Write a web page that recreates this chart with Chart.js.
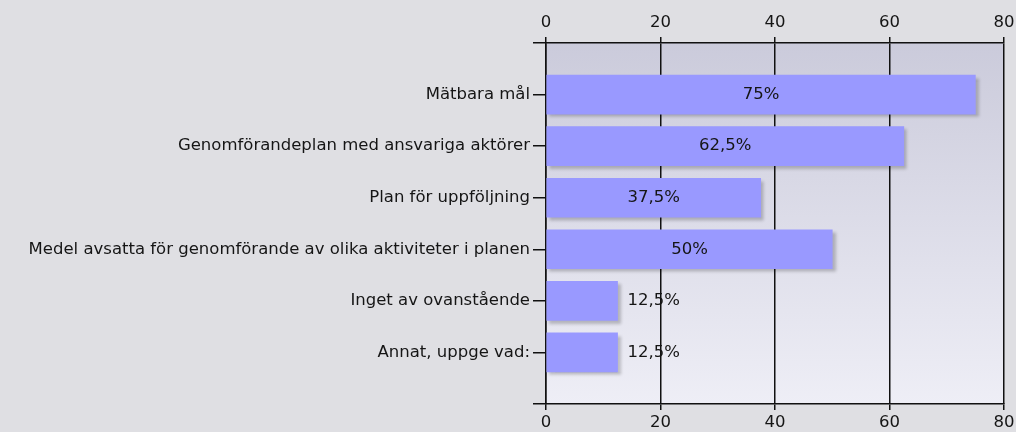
<!DOCTYPE html>
<html><head><meta charset="utf-8">
<script src="https://cdn.jsdelivr.net/npm/chart.js@4"></script>
<style>html,body{margin:0;padding:0;background:#dfdfe3;}#wrap{width:1016px;height:432px;}</style>
</head><body><div id="wrap"><canvas id="c" width="1016" height="432"></canvas></div>
<script>
const categories = ["Mätbara mål","Genomförandeplan med ansvariga aktörer","Plan för uppföljning","Medel avsatta för genomförande av olika aktiviteter i planen","Inget av ovanstående","Annat, uppge vad:"];
const values = [75, 62.5, 37.5, 50, 12.5, 12.5];
const valueLabels = ["75%","62,5%","37,5%","50%","12,5%","12,5%"];
const xTicks = [0, 20, 40, 60, 80];

const labels = [""].concat(categories, [""]);
const data = [null].concat(values, [null]);
const dLabels = [""].concat(valueLabels, [""]);
const FONT = "DejaVu Sans";
const FS = 16.5;

const bgPlugin = {
  id: 'bg',
  beforeDraw(chart) {
    const a = chart.chartArea, ctx = chart.ctx;
    const g = ctx.createLinearGradient(0, a.top, 0, a.bottom);
    g.addColorStop(0, '#cbcbdb');
    g.addColorStop(1, '#eeeef6');
    ctx.save(); ctx.fillStyle = g; ctx.fillRect(a.left, a.top, a.right - a.left, a.bottom - a.top); ctx.restore();
  },
  beforeDatasetsDraw(chart) {
    const ctx = chart.ctx; ctx.save();
    ctx.shadowColor = 'rgba(0,0,0,0.22)'; ctx.shadowOffsetX = 3; ctx.shadowOffsetY = 3; ctx.shadowBlur = 3;
  },
  afterDatasetsDraw(chart) {
    const ctx = chart.ctx; ctx.restore();
    const meta = chart.getDatasetMeta(0);
    ctx.save();
    ctx.font = FS + 'px "' + FONT + '"'; ctx.fillStyle = '#151515'; ctx.textBaseline = 'middle';
    meta.data.forEach((bar, i) => {
      const t = dLabels[i]; if (!t) return;
      const w = bar.x - bar.base;
      const tw = ctx.measureText(t).width;
      if (tw + 30 < w) { ctx.textAlign = 'center'; ctx.fillText(t, bar.base + w / 2, bar.y); }
      else { ctx.textAlign = 'left'; ctx.fillText(t, bar.x + 10, bar.y); }
    });
    ctx.restore();
  }
};

const tickFont = { family: FONT, size: FS };
function fixPad(s) { s.paddingLeft = 0; s.paddingRight = 12; }
new Chart(document.getElementById('c'), {
  type: 'bar',
  data: { labels: labels, datasets: [{ data: data, backgroundColor: '#9999ff', barThickness: 39, borderWidth: 0 }] },
  options: {
    indexAxis: 'y', responsive: false, animation: false,
    layout: { padding: { left: 0, right: 12, top: 0, bottom: 0 } },
    plugins: { legend: { display: false }, tooltip: { enabled: false } },
    scales: {
      x: {
        position: 'top', min: 0, max: 80,
        afterBuildTicks(s) { s.ticks = xTicks.map(v => ({ value: v })); },
        afterFit(s) { s.height = 43; fixPad(s); },
        grid: { color: '#111', lineWidth: 1.5, tickLength: 6, drawTicks: true },
        border: { color: '#111', width: 1.5 },
        ticks: { font: tickFont, color: '#151515', padding: 4, maxRotation: 0 }
      },
      x2: {
        position: 'bottom', min: 0, max: 80, axis: 'x',
        afterBuildTicks(s) { s.ticks = xTicks.map(v => ({ value: v })); },
        afterFit(s) { s.height = 28; fixPad(s); },
        grid: { color: '#111', lineWidth: 1.5, tickLength: 6, drawOnChartArea: false },
        border: { color: '#111', width: 1.5 },
        ticks: { font: tickFont, color: '#151515', padding: 3, maxRotation: 0 }
      },
      y: {
        type: 'category', offset: false,
        afterFit(s) { s.width = 546; s.paddingTop = 0; s.paddingBottom = 0; },
        grid: { color: '#111', lineWidth: 1.5, tickLength: 13, drawOnChartArea: false, offset: false },
        border: { color: '#111', width: 1.5 },
        ticks: { font: tickFont, color: '#151515', padding: 3, autoSkip: false }
      }
    }
  },
  plugins: [bgPlugin]
});
</script></body></html>
